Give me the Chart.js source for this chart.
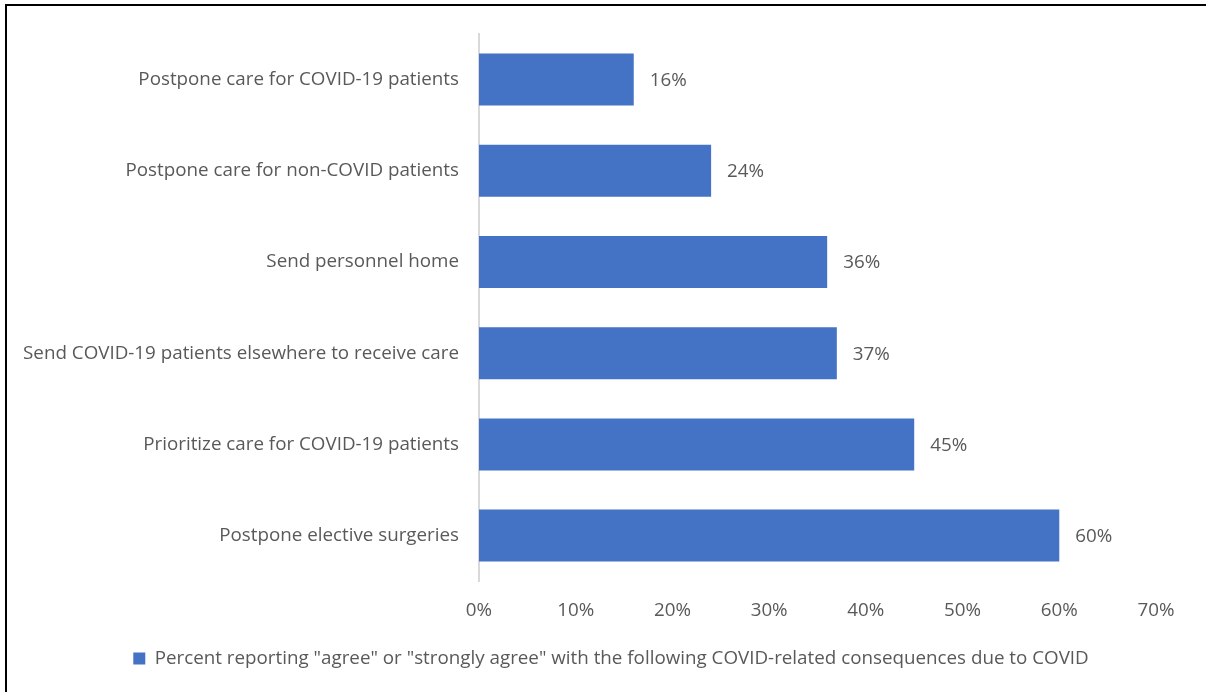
<!DOCTYPE html>
<html>
<head>
<meta charset="utf-8">
<script src="https://cdn.jsdelivr.net/npm/chart.js@4/dist/chart.umd.min.js"></script>
<style>
  html, body { margin: 0; padding: 0; background: #fff; }
  #wrap { position: relative; width: 1206px; height: 692px; }
  #frame { position: absolute; left: 5px; top: 4px; right: 0; bottom: 0;
           border-top: 2px solid #000; border-left: 2px solid #000; pointer-events: none; }
  canvas { display: block; }
</style>
</head>
<body>
<div id="wrap">
  <canvas id="chart" width="1206" height="692"></canvas>
  <div id="frame"></div>
</div>
<script>
// Survey results: share reporting each consequence
const categories = [
  "Postpone care for COVID-19 patients",
  "Postpone care for non-COVID patients",
  "Send personnel home",
  "Send COVID-19 patients elsewhere to receive care",
  "Prioritize care for COVID-19 patients",
  "Postpone elective surgeries"
]
const percents = [16, 24, 36, 37, 45, 60]
const xTicks = [0, 10, 20, 30, 40, 50, 60, 70]
const seriesLabel = 'Percent reporting "agree" or "strongly agree" with the following COVID-related consequences due to COVID'

const FONT = "'Open Sans', sans-serif"
const FS = 18.8
const TEXT = "#595959"
const BAR = "#4472C4"

// value labels to the right of each bar
const valueLabels = {
  id: "valueLabels",
  afterDatasetsDraw(chart) {
    const ctx = chart.ctx
    const meta = chart.getDatasetMeta(0)
    ctx.save()
    ctx.font = FS + "px " + FONT
    ctx.fillStyle = TEXT
    ctx.textAlign = "left"
    ctx.textBaseline = "middle"
    meta.data.forEach((bar, i) => {
      ctx.fillText(percents[i] + "%", bar.x + 16, bar.y + 1)
    })
    ctx.restore()
  }
}

// centre the legend on the whole canvas instead of the padded area
const legendShift = {
  id: "legendShift",
  afterLayout(chart) {
    chart.legend.left += 33
    chart.legend.right += 33
  }
}

new Chart(document.getElementById("chart"), {
  type: "bar",
  data: {
    labels: categories,
    datasets: [{
      label: seriesLabel,
      data: percents,
      backgroundColor: BAR,
      borderWidth: 0,
      barPercentage: 0.57,
      categoryPercentage: 1
    }]
  },
  options: {
    indexAxis: "y",
    responsive: false,
    animation: false,
    layout: { padding: { top: 34, right: 50, left: 0, bottom: 14 } },
    scales: {
      x: {
        min: 0,
        max: 70,
        afterBuildTicks: s => { s.ticks = xTicks.map(v => ({ value: v })) },
        grid: { display: false, drawTicks: false },
        border: { display: false },
        ticks: {
          color: TEXT,
          font: { family: FONT, size: FS },
          padding: 18,
          callback: v => v + "%"
        },
        afterFit: s => { s.height = 58 }
      },
      y: {
        grid: { display: false, drawTicks: false },
        border: { display: true, color: "#d9d9d9", width: 2 },
        ticks: {
          color: TEXT,
          font: { family: FONT, size: FS },
          padding: 20
        },
        afterFit: s => { s.width = 479 }
      }
    },
    plugins: {
      legend: {
        position: "bottom",
        labels: {
          color: TEXT,
          font: { family: FONT, size: FS },
          boxWidth: 12,
          boxHeight: 12,
          padding: 10
        }
      },
      tooltip: { enabled: false }
    }
  },
  plugins: [valueLabels, legendShift]
})
</script>
</body>
</html>
